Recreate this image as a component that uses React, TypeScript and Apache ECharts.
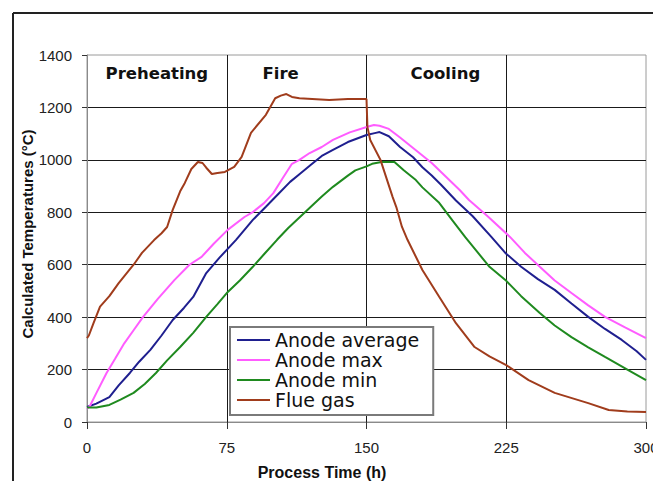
import React, { useEffect, useRef } from "react";
import * as echarts from "echarts";

const xTicks = [0, 75, 150, 225, 300];
const yTicks = [0, 200, 400, 600, 800, 1000, 1200, 1400];
const phaseLabels = ["Preheating", "Fire", "Cooling"];
const phaseCenters = [37.5, 112.5, 187.5];
const seriesNames = ["Anode average", "Anode max", "Anode min", "Flue gas"];

const anodeAverage: [number, number][] = [
  [0, 57], [5, 70], [12, 95], [17, 140], [23, 187], [28, 230], [34, 275], [40, 330],
  [46, 389], [52, 435], [57, 477], [64, 568], [71, 626], [80, 695], [89, 771], [96, 821],
  [102, 865], [109, 916], [114, 945], [120, 980], [126, 1015], [132, 1038], [140, 1068],
  [150, 1095], [155, 1103], [157, 1106], [162, 1090], [168, 1049], [175, 1010], [180, 972],
  [185, 940], [190, 905], [198, 845], [207, 785], [217, 706], [224.5, 645], [233, 592],
  [242, 545], [251, 504], [260, 452], [269, 401], [278, 355], [287, 313], [295, 270], [300, 237],
];

const anodeMax: [number, number][] = [
  [0, 50], [1.5, 60], [5, 110], [10.5, 187], [15, 240], [20, 300], [25, 350], [30, 400],
  [38, 470], [47, 542], [55, 600], [61.5, 630], [68, 680], [75.5, 733], [84.5, 782],
  [89, 801], [95, 835], [100, 873], [105, 930], [110, 985], [114, 1000], [119.5, 1026],
  [126, 1049], [132, 1076], [141, 1105], [150.5, 1126], [154, 1133], [157, 1130],
  [162, 1118], [168, 1085], [175, 1045], [185, 988], [200, 885], [205, 847], [215, 785],
  [227, 706], [235, 645], [243, 592], [251, 540], [260, 492], [269, 445], [278, 401],
  [289, 360], [300, 320],
];

const anodeMin: [number, number][] = [
  [0, 55], [5, 55], [12, 65], [18, 85], [25, 111], [31, 145], [37, 187], [43, 235],
  [50, 286], [57, 340], [64, 401], [70, 450], [75, 492], [82, 540], [89, 592], [95, 640],
  [102, 695], [108, 740], [114, 780], [120, 820], [126, 860], [132, 897], [140, 940],
  [144, 960], [150, 975], [153, 985], [158, 992], [165, 992], [170, 960], [176.5, 923],
  [180, 895], [189, 836], [196, 770], [203, 705], [216, 592], [224.5, 542], [233, 480],
  [243, 416], [251, 368], [260, 324], [269, 285], [278, 248], [290, 200], [300, 160],
];

const flueGas: [number, number][] = [
  [0, 320], [1, 330], [3.5, 377], [7, 440], [12, 480], [17, 530], [21, 565], [25, 600],
  [29.5, 645], [36, 694], [40, 720], [43, 744], [46, 809], [50, 880], [52.5, 912],
  [56, 965], [59.5, 992], [62, 988], [64, 970], [67, 946], [70, 950], [74, 954], [79, 973],
  [83, 1011], [88, 1103], [96, 1172], [101, 1235], [104, 1245], [107, 1251], [110, 1240],
  [114, 1235], [130, 1228], [140, 1232], [150, 1232], [150.5, 1125], [152, 1076],
  [157.5, 1000], [164, 859], [166, 820], [169, 745], [172, 695], [180, 580], [189, 478],
  [198, 377], [208, 286], [216, 250], [225, 217], [237, 160], [251, 111], [269, 72],
  [280, 46], [290, 40], [300, 38],
];

const seriesData = [anodeAverage, anodeMax, anodeMin, flueGas];
const seriesColors = ["#1f1f8f", "#ff5cff", "#1f8a1f", "#a03c1c"];

export default function App() {
  const ref = useRef<HTMLDivElement>(null);

  useEffect(() => {
    if (!ref.current) return;
    const chart = echarts.init(ref.current, null, { renderer: "svg" });

    chart.setOption({
      animation: false,
      backgroundColor: "#ffffff",
      grid: {
        left: 87,
        top: 55,
        right: 7,
        bottom: 59,
        containLabel: false,
        outerBoundsMode: "none",
        show: true,
        borderColor: "#9a9a9a",
        borderWidth: 1,
        backgroundColor: "transparent",
      },
      xAxis: {
        type: "value",
        min: xTicks[0],
        max: xTicks[xTicks.length - 1],
        interval: 75,
        axisLine: { show: true, lineStyle: { color: "#8a8a8a", width: 1 } },
        axisTick: { show: true, length: 7, lineStyle: { color: "#333" } },
        axisLabel: {
          margin: 18,
          fontFamily: "Arial, 'Liberation Sans', sans-serif",
          fontSize: 15,
          color: "#222",
          formatter: (v: number) => String(v),
        },
        splitLine: {
          show: true,
          showMinLine: false,
          showMaxLine: false,
          lineStyle: { color: "#1a1a1a", width: 1 },
        },
      },
      yAxis: {
        type: "value",
        min: yTicks[0],
        max: yTicks[yTicks.length - 1],
        interval: 200,
        axisLine: { show: true, lineStyle: { color: "#8a8a8a", width: 1 } },
        axisTick: { show: true, length: 5, lineStyle: { color: "#333" } },
        axisLabel: {
          margin: 15,
          fontFamily: "Arial, 'Liberation Sans', sans-serif",
          fontSize: 15,
          color: "#222",
          formatter: (v: number) => String(v),
        },
        splitLine: {
          show: true,
          showMinLine: false,
          showMaxLine: false,
          lineStyle: { color: "#1a1a1a", width: 1 },
        },
      },
      legend: {
        data: seriesNames,
        orient: "vertical",
        left: 230,
        top: 327,
        padding: [3, 14, 5, 7],
        itemGap: 0,
        itemWidth: 33,
        itemHeight: 2,
        icon: "rect",
        backgroundColor: "#ffffff",
        borderColor: "#7a7a7a",
        borderWidth: 2,
        textStyle: {
          fontFamily: "'DejaVu Sans', Verdana, sans-serif",
          fontSize: 19,
          lineHeight: 20,
          color: "#111",
        },
      },
      series: seriesNames.map((name, i) => ({
        name,
        type: "line",
        data: seriesData[i],
        showSymbol: false,
        symbol: "none",
        smooth: false,
        lineStyle: { color: seriesColors[i], width: 2 },
        itemStyle: { color: seriesColors[i] },
        z: 3,
      })),
    });

    const phaseGraphics = phaseLabels.map((label, i) => {
      const pt = chart.convertToPixel({ gridIndex: 0 }, [phaseCenters[i], 0]) as number[];
      const offsets = [0, -16, 9];
      return {
        type: "text",
        x: pt[0] + offsets[i],
        y: 73,
        style: {
          text: label,
          fontFamily: "'DejaVu Sans', Verdana, sans-serif",
          fontWeight: "bold",
          fontSize: 16.5,
          fill: "#111",
          align: "center",
          verticalAlign: "middle",
        },
      };
    });

    chart.setOption({
      graphic: [
        {
          type: "line",
          shape: { x1: 13, y1: 13, x2: 653, y2: 13 },
          style: { stroke: "#222", lineWidth: 2 },
        },
        {
          type: "line",
          shape: { x1: 13, y1: 13, x2: 13, y2: 481 },
          style: { stroke: "#222", lineWidth: 2 },
        },
        {
          type: "text",
          x: 27,
          y: 234,
          rotation: Math.PI / 2,
          style: {
            text: "Calculated Temperatures (°C)",
            fontFamily: "Arial, 'Liberation Sans', sans-serif",
            fontWeight: "bold",
            fontSize: 15,
            fill: "#111",
            align: "center",
            verticalAlign: "middle",
          },
        },
        {
          type: "text",
          x: 322,
          y: 472,
          style: {
            text: "Process Time (h)",
            fontFamily: "Arial, 'Liberation Sans', sans-serif",
            fontWeight: "bold",
            fontSize: 16,
            fill: "#111",
            align: "center",
            verticalAlign: "middle",
          },
        },
        ...phaseGraphics,
      ],
    });

    return () => chart.dispose();
  }, []);

  return (
    <div
      ref={ref}
      style={{ position: "fixed", left: 0, top: 0, width: 653, height: 481, background: "#fff" }}
    />
  );
}
